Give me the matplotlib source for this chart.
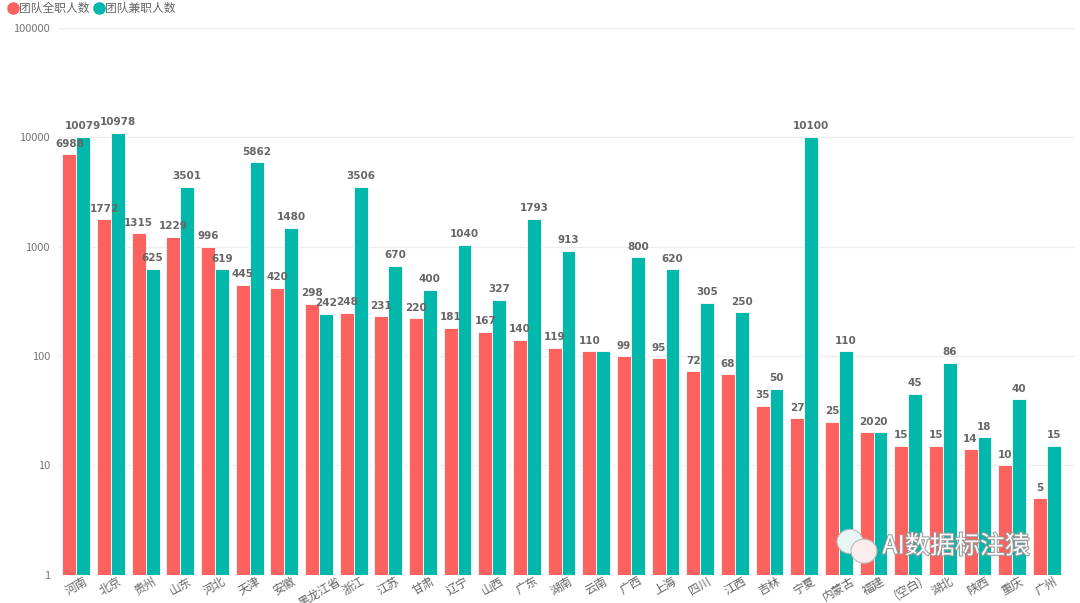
import numpy as np
import matplotlib.pyplot as plt
import matplotlib.patheffects as pe
from matplotlib.lines import Line2D
from matplotlib.patches import Ellipse

plt.rcParams['font.family'] = ['Noto Sans CJK SC', 'DejaVu Sans']

# 数据
provinces = ['河南', '北京', '贵州', '山东', '河北', '天津', '安徽', '黑龙江省', '浙江', '江苏',
             '甘肃', '辽宁', '山西', '广东', '湖南', '云南', '广西', '上海', '四川', '江西',
             '吉林', '宁夏', '内蒙古', '福建', '(空白)', '湖北', '陕西', '重庆', '广州']
full_time = [6988, 1772, 1315, 1229, 996, 445, 420, 298, 248, 231,
             220, 181, 167, 140, 119, 110, 99, 95, 72, 68,
             35, 27, 25, 20, 15, 15, 14, 10, 5]
part_time = [10079, 10978, 625, 3501, 619, 5862, 1480, 242, 3506, 670,
             400, 1040, 327, 1793, 913, 110, 800, 620, 305, 250,
             50, 10100, 110, 20, 45, 86, 18, 40, 15]
series_names = ['团队全职人数', '团队兼职人数']
yticks = [1, 10, 100, 1000, 10000, 100000]

red = '#FD625E'
teal = '#01B8AA'

fig = plt.figure(figsize=(10.8, 6.03), dpi=100)
ax = fig.add_axes([0.054, 0.047, 0.941, 0.907])

x = np.arange(len(provinces))
w = 0.4
ax.bar(x - w/2, full_time, width=w, color=red, edgecolor='white', linewidth=0.6, zorder=2)
ax.bar(x + w/2, part_time, width=w, color=teal, edgecolor='white', linewidth=0.6, zorder=2)

ax.set_yscale('log')
ax.set_ylim(1, 100000)
ax.set_xlim(-0.52, len(provinces) - 0.2)
ax.set_yticks(yticks)
ax.set_yticklabels([str(v) for v in yticks])
ax.minorticks_off()
ax.tick_params(axis='y', length=0, labelsize=8, labelcolor='#777777', pad=6)
ax.tick_params(axis='x', length=0, labelsize=8.5, labelcolor='#666666', pad=0)
ax.set_xticks(x)
ax.set_xticklabels(provinces, rotation=30, ha='center')
ax.grid(axis='y', color='#EEEEEE', linewidth=0.9, zorder=0)
for s in ax.spines.values():
    s.set_visible(False)

# 数据标签（重叠的相同数值只显示一个）
for i in range(len(provinces)):
    ax.annotate(str(full_time[i]), (x[i] - w/2, full_time[i]), xytext=(0, 4),
                textcoords='offset points', ha='center', va='bottom',
                fontsize=7.5, color='#666666', fontweight='bold', family='DejaVu Sans')
    if part_time[i] == full_time[i] and part_time[i] >= 100:
        continue
    ax.annotate(str(part_time[i]), (x[i] + w/2, part_time[i]), xytext=(0, 4),
                textcoords='offset points', ha='center', va='bottom',
                fontsize=7.5, color='#666666', fontweight='bold', family='DejaVu Sans')

# 图例
handles = [Line2D([0], [0], marker='o', linestyle='', markersize=8, markerfacecolor=red, markeredgecolor=red),
           Line2D([0], [0], marker='o', linestyle='', markersize=8, markerfacecolor=teal, markeredgecolor=teal)]
fig.legend(handles, series_names, loc='upper left', bbox_to_anchor=(-0.003, 1.014), ncol=2,
           frameon=False, fontsize=8.5, handlelength=0.9, handletextpad=0.1, columnspacing=0.3,
           labelcolor='#666666')

# 水印
fig.patches.append(Ellipse((0.787, 0.102), 0.024, 0.04, transform=fig.transFigure,
                           facecolor='#E8F6F3', edgecolor='#BBBBBB', linewidth=0.8))
fig.patches.append(Ellipse((0.8, 0.086), 0.024, 0.04, transform=fig.transFigure,
                           facecolor='#FCEDED', edgecolor='#BBBBBB', linewidth=0.8))
fig.text(0.817, 0.082, 'AI数据标注猿', fontsize=18, color='white',
         path_effects=[pe.withStroke(linewidth=1.5, foreground='#999999')])

plt.savefig('out.png', dpi=100)
